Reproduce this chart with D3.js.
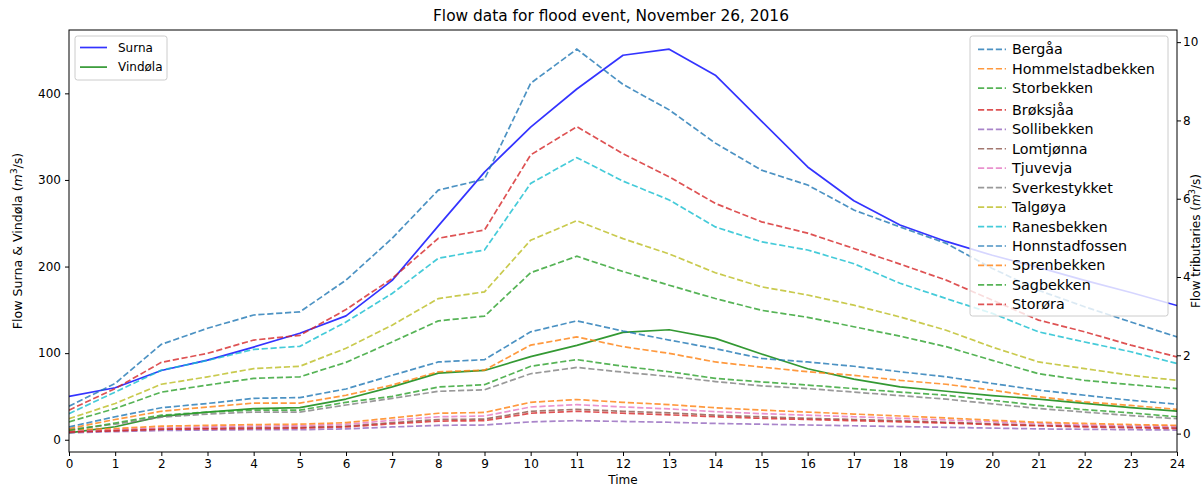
<!DOCTYPE html>
<html>
<head>
<meta charset="utf-8">
<script src="https://cdn.jsdelivr.net/npm/d3@7"></script>
<style>
  html, body { margin: 0; padding: 0; background: #fff; }
  svg { display: block; font-family: "DejaVu Sans", sans-serif; }
</style>
</head>
<body>
<svg id="chart" width="1203" height="490"></svg>
<script>
// Hours after start of the event
const hours = [0,1,2,3,4,5,6,7,8,9,10,11,12,13,14,15,16,17,18,19,20,21,22,23,24];
const xTicks = hours;
const leftTicks = [0, 100, 200, 300, 400];
const rightTicks = [0, 2, 4, 6, 8, 10];

// Main rivers (left axis, m3/s)
const surna   = [50,60,80,92,107,123,143,184,247,309,361,405,444,451,421,368,315,276,248,229,213,199,184,170,155];
const vindola = [8,15,27,32,36,37,47,61,77,80,96,109,124,127,117,99,82,70,61,56,51,47,42,37,33];

// Tributaries (right axis, m3/s)
const bergaa        = [0.70,1.28,2.28,2.69,3.03,3.11,3.92,4.99,6.22,6.50,8.95,9.82,8.92,8.27,7.42,6.73,6.35,5.71,5.28,4.86,4.22,3.66,3.24,2.85,2.47];
const hommelstad    = [0.13,0.36,0.57,0.68,0.78,0.78,0.98,1.24,1.58,1.62,2.26,2.47,2.22,2.05,1.83,1.70,1.58,1.49,1.36,1.26,1.11,0.94,0.81,0.72,0.62];
const storbekken    = [0.30,0.64,1.06,1.24,1.41,1.45,1.82,2.34,2.88,3.00,4.11,4.53,4.14,3.79,3.45,3.15,2.97,2.73,2.49,2.22,1.87,1.53,1.36,1.25,1.15];
const broksjaa      = [0.60,1.15,1.82,2.05,2.39,2.51,3.17,3.96,4.99,5.20,7.12,7.84,7.15,6.56,5.88,5.41,5.12,4.73,4.33,3.92,3.41,2.90,2.60,2.26,1.96];
const sollibekken   = [0.02,0.05,0.08,0.09,0.10,0.10,0.12,0.17,0.21,0.22,0.30,0.33,0.31,0.29,0.26,0.24,0.22,0.20,0.18,0.16,0.14,0.12,0.11,0.10,0.09];
const lomtjonna     = [0.05,0.08,0.12,0.14,0.15,0.16,0.19,0.28,0.36,0.37,0.57,0.62,0.57,0.53,0.47,0.43,0.39,0.36,0.33,0.29,0.25,0.21,0.19,0.17,0.15];
const tjuvevja      = [0.07,0.10,0.15,0.17,0.19,0.20,0.24,0.34,0.43,0.45,0.68,0.74,0.68,0.63,0.56,0.51,0.47,0.43,0.39,0.35,0.30,0.26,0.22,0.20,0.18];
const sverkestykket = [0.10,0.24,0.42,0.50,0.55,0.55,0.73,0.90,1.08,1.12,1.53,1.69,1.57,1.46,1.33,1.22,1.15,1.06,0.97,0.88,0.76,0.64,0.55,0.46,0.38];
const talgoya       = [0.38,0.77,1.26,1.45,1.66,1.72,2.18,2.77,3.45,3.62,4.94,5.44,4.98,4.59,4.11,3.75,3.54,3.28,2.98,2.64,2.21,1.83,1.66,1.49,1.36];
const ranesbekken   = [0.51,1.06,1.62,1.87,2.15,2.23,2.85,3.58,4.48,4.69,6.39,7.05,6.45,5.97,5.28,4.90,4.69,4.34,3.84,3.45,3.07,2.60,2.34,2.09,1.79];
const honnstad      = [0.17,0.43,0.66,0.77,0.90,0.92,1.14,1.49,1.83,1.89,2.60,2.88,2.62,2.39,2.17,1.92,1.83,1.72,1.58,1.45,1.28,1.11,0.98,0.85,0.75];
const sprenbekken   = [0.10,0.13,0.19,0.21,0.23,0.24,0.28,0.40,0.52,0.54,0.80,0.87,0.80,0.74,0.66,0.60,0.55,0.50,0.45,0.40,0.34,0.29,0.26,0.23,0.21];
const sagbekken     = [0.08,0.27,0.47,0.55,0.60,0.60,0.80,0.95,1.19,1.25,1.72,1.89,1.72,1.58,1.41,1.32,1.24,1.15,1.06,0.98,0.85,0.72,0.61,0.53,0.43];
const storora       = [0.04,0.07,0.11,0.12,0.13,0.14,0.17,0.25,0.32,0.33,0.52,0.57,0.52,0.48,0.43,0.39,0.36,0.33,0.30,0.27,0.23,0.20,0.17,0.15,0.13];

const mainNames = ["Surna", "Vindøla"];
const mainColors = ["#0000ff", "#008000"];
const mainSeries = [surna, vindola];

const tribNames = ["Bergåa","Hommelstadbekken","Storbekken","Brøksjåa","Sollibekken","Lomtjønna",
                   "Tjuvevja","Sverkestykket","Talgøya","Ranesbekken","Honnstadfossen","Sprenbekken",
                   "Sagbekken","Storøra"];
const tribSeries = [bergaa, hommelstad, storbekken, broksjaa, sollibekken, lomtjonna, tjuvevja,
                    sverkestykket, talgoya, ranesbekken, honnstad, sprenbekken, sagbekken, storora];
const tab10 = ["#1f77b4","#ff7f0e","#2ca02c","#d62728","#9467bd","#8c564b","#e377c2","#7f7f7f","#bcbd22","#17becf"];

const svg = d3.select("#chart");
const m = { left: 69, right: 1177, top: 30, bottom: 452 };
const FS = 12;

// Domain with 5% padding on each side, like an autoscaled plot
function padded(arrays) {
  const lo = d3.min(arrays, a => d3.min(a)), hi = d3.max(arrays, a => d3.max(a));
  const p = (hi - lo) * 0.05;
  return [lo - p, hi + p];
}

const x = d3.scaleLinear().domain([0, 24]).range([m.left, m.right]);
const yL = d3.scaleLinear().domain(padded(mainSeries)).range([m.bottom, m.top]);
const yR = d3.scaleLinear().domain(padded(tribSeries)).range([m.bottom, m.top]);

const plot = svg.append("g");
plot.append("defs").append("clipPath").attr("id", "clip")
  .append("rect").attr("x", m.left).attr("y", m.top)
  .attr("width", m.right - m.left).attr("height", m.bottom - m.top);

// Main rivers
const lineL = d3.line().x((d, i) => x(hours[i])).y(d => yL(d));
mainSeries.forEach((s, k) => {
  plot.append("path").datum(s).attr("d", lineL).attr("clip-path", "url(#clip)")
    .attr("fill", "none").attr("stroke", mainColors[k]).attr("stroke-width", 1.7)
    .attr("stroke-linejoin", "round").attr("stroke-opacity", 0.8);
});

// Left legend
const lg = svg.append("g");
const lgX = 75, lgY = 36, lgW = 92, lgH = 44, rowH = 19.6;
lg.append("rect").attr("x", lgX).attr("y", lgY).attr("width", lgW).attr("height", lgH)
  .attr("rx", 2.5).attr("fill", "#fff").attr("fill-opacity", 0.8).attr("stroke", "#cccccc").attr("stroke-width", 1);
mainNames.forEach((n, k) => {
  const cy = lgY + 11.5 + k * rowH;
  lg.append("line").attr("x1", lgX + 5).attr("x2", lgX + 32).attr("y1", cy).attr("y2", cy)
    .attr("stroke", mainColors[k]).attr("stroke-width", 1.7).attr("stroke-opacity", 0.8);
  lg.append("text").attr("x", lgX + 43).attr("y", cy).attr("dy", "0.35em")
    .attr("font-size", FS).attr("fill", "#000").text(n);
});

// Tributaries on the twin axis
const lineR = d3.line().x((d, i) => x(hours[i])).y(d => yR(d));
tribSeries.forEach((s, k) => {
  plot.append("path").datum(s).attr("d", lineR).attr("clip-path", "url(#clip)")
    .attr("fill", "none").attr("stroke", tab10[k % 10]).attr("stroke-width", 1.7)
    .attr("stroke-dasharray", "6.2,2.7").attr("stroke-opacity", 0.8);
});

// Right legend (larger label font, tighter rows; rows after the third get extra room for the ring on å)
const rg = svg.append("g");
const rgX = 970, rgY = 36, rgW = 198, rgH = 280, rPitch = 19.45;
rg.append("rect").attr("x", rgX).attr("y", rgY).attr("width", rgW).attr("height", rgH)
  .attr("rx", 2.5).attr("fill", "#fff").attr("fill-opacity", 0.8).attr("stroke", "#cccccc").attr("stroke-width", 1);
tribNames.forEach((n, k) => {
  const cy = rgY + 13.3 + k * rPitch + (k >= 3 ? 2.2 : 0);
  rg.append("line").attr("x1", rgX + 8).attr("x2", rgX + 36).attr("y1", cy).attr("y2", cy)
    .attr("stroke", tab10[k % 10]).attr("stroke-width", 1.7)
    .attr("stroke-dasharray", "6.2,2.7").attr("stroke-opacity", 0.8);
  rg.append("text").attr("x", rgX + 42).attr("y", cy).attr("dy", "0.35em")
    .attr("font-size", 14.3).attr("fill", "#000").text(n);
});

// Frame
svg.append("rect").attr("x", m.left).attr("y", m.top)
  .attr("width", m.right - m.left).attr("height", m.bottom - m.top)
  .attr("fill", "none").attr("stroke", "#000").attr("stroke-width", 1);

// Axes
function styleAxis(g) {
  g.select(".domain").remove();
  g.selectAll("text").attr("font-size", FS).attr("fill", "#000").attr("font-family", "DejaVu Sans");
  g.selectAll("line").attr("stroke", "#000");
}
svg.append("g").attr("transform", `translate(0,${m.bottom})`)
  .call(d3.axisBottom(x).tickValues(xTicks).tickSize(4).tickPadding(3)).call(styleAxis);
svg.append("g").attr("transform", `translate(${m.left},0)`)
  .call(d3.axisLeft(yL).tickValues(leftTicks).tickSize(4).tickPadding(4)).call(styleAxis);
svg.append("g").attr("transform", `translate(${m.right},0)`)
  .call(d3.axisRight(yR).tickValues(rightTicks).tickSize(4).tickPadding(2)).call(styleAxis);

// Titles and axis labels
svg.append("text").attr("x", 611).attr("y", 21).attr("text-anchor", "middle")
  .attr("font-size", 15.4).attr("fill", "#000").text("Flow data for flood event, November 26, 2016");
svg.append("text").attr("x", (m.left + m.right) / 2).attr("y", 484).attr("text-anchor", "middle")
  .attr("font-size", FS).attr("fill", "#000").text("Time");

function unitLabel(g, prefix, fs) {
  const t = g.append("text").attr("text-anchor", "middle").attr("font-size", fs).attr("fill", "#000");
  t.append("tspan").text(prefix + " (");
  t.append("tspan").attr("font-style", "italic").text("m");
  t.append("tspan").attr("font-size", fs * 0.7).attr("dy", -5).text("3");
  t.append("tspan").attr("dy", 5).text("/s)");
  return t;
}
unitLabel(svg.append("g").attr("transform", `translate(22,${(m.top + m.bottom) / 2}) rotate(-90)`), "Flow Surna & Vindøla", 12.6);
unitLabel(svg.append("g").attr("transform", `translate(1199.5,${(m.top + m.bottom) / 2}) rotate(-90)`), "Flow tributaries", 12);
</script>
</body>
</html>
